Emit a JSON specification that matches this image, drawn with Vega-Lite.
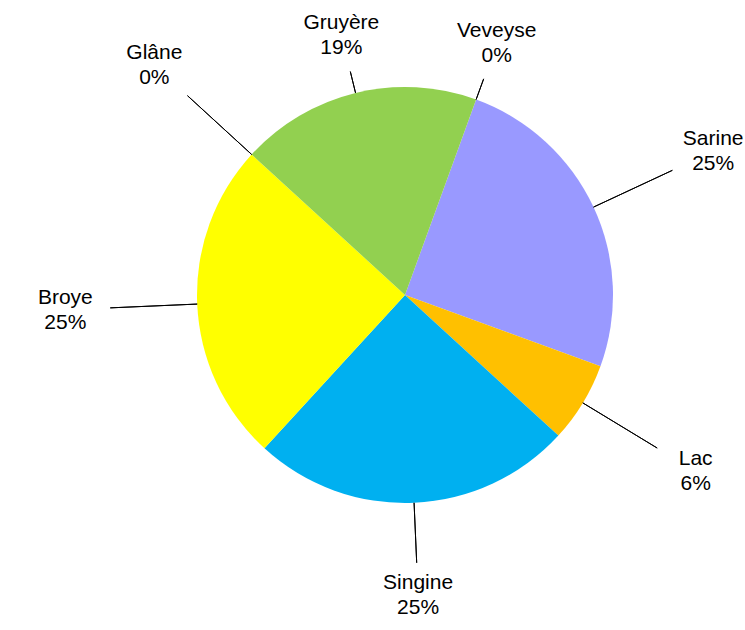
{
  "$schema": "https://vega.github.io/schema/vega-lite/v6.json",
  "width": 680,
  "height": 590,
  "autosize": {"type": "none"},
  "padding": {"left": 65, "top": 0, "right": 0, "bottom": 40},
  "background": "white",
  "config": {"view": {"stroke": null}},
  "data": {
    "values": [
      {"district": "Sarine", "share": 0.25},
      {"district": "Lac", "share": 0.0625},
      {"district": "Singine", "share": 0.25},
      {"district": "Broye", "share": 0.25},
      {"district": "Glâne", "share": 0},
      {"district": "Gruyère", "share": 0.1875},
      {"district": "Veveyse", "share": 0}
    ]
  },
  "transform": [{"window": [{"op": "row_number", "as": "idx"}]}],
  "encoding": {
    "theta": {
      "field": "share",
      "type": "quantitative",
      "stack": true,
      "scale": {"domain": [0, 1], "range": [0.34907, 6.63225]}
    },
    "order": {"field": "idx", "type": "quantitative"}
  },
  "layer": [
    {
      "mark": {"type": "arc", "outerRadius": 208},
      "encoding": {
        "color": {
          "field": "district",
          "type": "nominal",
          "scale": {
            "domain": ["Sarine", "Lac", "Singine", "Broye", "Glâne", "Gruyère", "Veveyse"],
            "range": ["#9999FF", "#FFC000", "#00B0F0", "#FFFF00", "#FF6600", "#92D050", "#C0C0C0"]
          },
          "legend": null
        }
      }
    },
    {
      "mark": {"type": "arc", "innerRadius": 208, "outerRadius": 295, "padAngle": 3, "filled": false, "stroke": "#000000", "strokeWidth": 1},
      "encoding": {"opacity": {"condition": {"test": {"field": "district", "oneOf": ["Sarine", "Lac", "Broye", "Glâne"]}, "value": 1}, "value": 0}}
    },
    {
      "mark": {"type": "arc", "innerRadius": 208, "outerRadius": 230, "padAngle": 3, "filled": false, "stroke": "#000000", "strokeWidth": 1},
      "encoding": {"opacity": {"condition": {"test": {"field": "district", "oneOf": ["Gruyère", "Veveyse"]}, "value": 1}, "value": 0}}
    },
    {
      "mark": {"type": "arc", "innerRadius": 208, "outerRadius": 268, "padAngle": 3, "filled": false, "stroke": "#000000", "strokeWidth": 1},
      "encoding": {"opacity": {"condition": {"test": {"field": "district", "oneOf": ["Singine"]}, "value": 1}, "value": 0}}
    },
    {
      "mark": {"type": "text", "radius": 340, "dy": -12, "fontSize": 21, "font": "Liberation Sans", "color": "#000000"},
      "encoding": {
        "text": {"field": "district", "type": "nominal"},
        "opacity": {"condition": {"test": {"field": "district", "oneOf": ["Sarine", "Lac", "Broye", "Glâne"]}, "value": 1}, "value": 0}
      }
    },
    {
      "mark": {"type": "text", "radius": 340, "dy": 13, "fontSize": 21, "font": "Liberation Sans", "color": "#000000"},
      "encoding": {
        "text": {"field": "share", "type": "quantitative", "format": ".0%"},
        "opacity": {"condition": {"test": {"field": "district", "oneOf": ["Sarine", "Lac", "Broye", "Glâne"]}, "value": 1}, "value": 0}
      }
    },
    {
      "mark": {"type": "text", "radius": 268, "dy": -12, "fontSize": 21, "font": "Liberation Sans", "color": "#000000"},
      "encoding": {
        "text": {"field": "district", "type": "nominal"},
        "opacity": {"condition": {"test": {"field": "district", "oneOf": ["Gruyère", "Veveyse"]}, "value": 1}, "value": 0}
      }
    },
    {
      "mark": {"type": "text", "radius": 268, "dy": 13, "fontSize": 21, "font": "Liberation Sans", "color": "#000000"},
      "encoding": {
        "text": {"field": "share", "type": "quantitative", "format": ".0%"},
        "opacity": {"condition": {"test": {"field": "district", "oneOf": ["Gruyère", "Veveyse"]}, "value": 1}, "value": 0}
      }
    },
    {
      "mark": {"type": "text", "radius": 300, "dy": -12, "fontSize": 21, "font": "Liberation Sans", "color": "#000000"},
      "encoding": {
        "text": {"field": "district", "type": "nominal"},
        "opacity": {"condition": {"test": {"field": "district", "oneOf": ["Singine"]}, "value": 1}, "value": 0}
      }
    },
    {
      "mark": {"type": "text", "radius": 300, "dy": 13, "fontSize": 21, "font": "Liberation Sans", "color": "#000000"},
      "encoding": {
        "text": {"field": "share", "type": "quantitative", "format": ".0%"},
        "opacity": {"condition": {"test": {"field": "district", "oneOf": ["Singine"]}, "value": 1}, "value": 0}
      }
    }
  ]
}
